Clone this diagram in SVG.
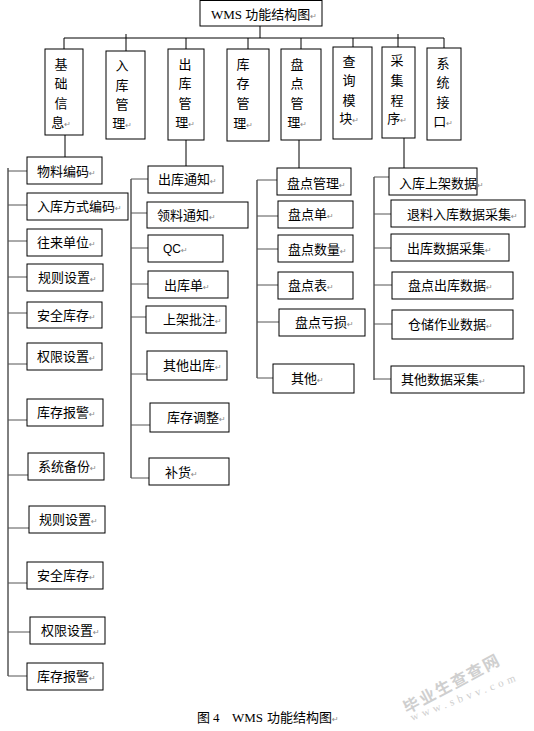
<svg xmlns="http://www.w3.org/2000/svg" width="534" height="731" viewBox="0 0 534 731">
<style>
.b{fill:#fff;stroke:#000;stroke-width:1}
.t{font-family:"Noto Sans CJK SC","Noto Sans CJK JP",sans-serif;font-size:13px;fill:#000}
.r{font-family:"DejaVu Sans",sans-serif;font-size:8px;fill:#888}
.c line{stroke:#000;stroke-width:1}
.g line{stroke:#555;stroke-width:1}
.s{font-family:"Liberation Serif","Noto Sans CJK SC",serif;font-size:13px;fill:#000}
</style>
<rect width="534" height="731" fill="#fff"/>
<g id="connectors">
<g class="c">
<line x1="260" y1="26" x2="260" y2="38"/>
<line x1="64" y1="38" x2="444" y2="38"/>
<line x1="64" y1="38" x2="64" y2="49"/>
<line x1="126" y1="34" x2="126" y2="51"/>
<line x1="186" y1="38" x2="186" y2="49"/>
<line x1="248" y1="38" x2="248" y2="49"/>
<line x1="301" y1="38" x2="301" y2="49"/>
<line x1="353" y1="38" x2="353" y2="47"/>
<line x1="398" y1="34" x2="398" y2="47"/>
<line x1="444" y1="38" x2="444" y2="48"/>
<line x1="65" y1="135" x2="65" y2="157"/>
<line x1="186" y1="140" x2="186" y2="166"/>
<line x1="299" y1="140" x2="299" y2="168"/>
<line x1="404" y1="138" x2="404" y2="168"/>
<line x1="8" y1="168" x2="8" y2="676"/>
<line x1="131" y1="179" x2="131" y2="478"/>
<line x1="257" y1="180" x2="257" y2="378"/>
<line x1="374" y1="177" x2="374" y2="380"/>
</g>
<g class="g">
<line x1="8" y1="171" x2="27" y2="171"/>
<line x1="8" y1="205" x2="27" y2="205"/>
<line x1="8" y1="241" x2="27" y2="241"/>
<line x1="8" y1="277" x2="27" y2="277"/>
<line x1="8" y1="313" x2="27" y2="313"/>
<line x1="8" y1="364" x2="27" y2="364"/>
<line x1="8" y1="420" x2="27" y2="420"/>
<line x1="8" y1="475" x2="28" y2="475"/>
<line x1="8" y1="528" x2="29" y2="528"/>
<line x1="8" y1="583" x2="27" y2="583"/>
<line x1="8" y1="632" x2="30" y2="632"/>
<line x1="8" y1="676" x2="27" y2="676"/>
<line x1="131" y1="179" x2="148" y2="179"/>
<line x1="131" y1="213" x2="147" y2="213"/>
<line x1="131" y1="248" x2="148" y2="248"/>
<line x1="131" y1="284" x2="148" y2="284"/>
<line x1="131" y1="317" x2="146" y2="317"/>
<line x1="131" y1="374" x2="147" y2="374"/>
<line x1="131" y1="425" x2="150" y2="425"/>
<line x1="131" y1="478" x2="149" y2="478"/>
<line x1="257" y1="180" x2="277" y2="180"/>
<line x1="257" y1="216" x2="278" y2="216"/>
<line x1="257" y1="249" x2="278" y2="249"/>
<line x1="257" y1="285" x2="278" y2="285"/>
<line x1="257" y1="322" x2="279" y2="322"/>
<line x1="257" y1="378" x2="273" y2="378"/>
<line x1="374" y1="177" x2="389" y2="177"/>
<line x1="374" y1="214" x2="391" y2="214"/>
<line x1="374" y1="248" x2="391" y2="248"/>
<line x1="374" y1="285" x2="392" y2="285"/>
<line x1="374" y1="324" x2="392" y2="324"/>
<line x1="374" y1="379" x2="391" y2="379"/>
</g>
</g>

<g id="title"><rect class="b" x="200" y="0.5" width="122" height="25.5"/>
<text x="211" y="19"><tspan class="s">WMS </tspan><tspan class="t" font-size="12">功能结构图</tspan><tspan class="r">↵</tspan></text></g>

<g id="n-jichu"><rect class="b" x="45" y="49" width="38" height="86"/>
<text class="t" text-anchor="middle"><tspan x="61" y="69">基</tspan><tspan x="61" y="88">础</tspan><tspan x="61" y="108">信</tspan><tspan x="61" y="127">息<tspan class="r">↵</tspan></tspan></text></g>
<g id="n-ruku"><rect class="b" x="106" y="51" width="39" height="88"/>
<text class="t" text-anchor="middle"><tspan x="122" y="70">入</tspan><tspan x="122" y="90">库</tspan><tspan x="122" y="109">管</tspan><tspan x="122" y="128">理<tspan class="r">↵</tspan></tspan></text></g>
<g id="n-chuku"><rect class="b" x="168" y="49" width="36" height="91"/>
<text class="t" text-anchor="middle"><tspan x="185" y="69">出</tspan><tspan x="185" y="88">库</tspan><tspan x="185" y="108">管</tspan><tspan x="185" y="127">理<tspan class="r">↵</tspan></tspan></text></g>
<g id="n-kucun"><rect class="b" x="227" y="49" width="42" height="92"/>
<text class="t" text-anchor="middle"><tspan x="243" y="69">库</tspan><tspan x="243" y="88">存</tspan><tspan x="243" y="108">管</tspan><tspan x="243" y="128">理<tspan class="r">↵</tspan></tspan></text></g>
<g id="n-pandian"><rect class="b" x="281" y="49" width="40" height="91"/>
<text class="t" text-anchor="middle"><tspan x="297" y="69">盘</tspan><tspan x="297" y="88">点</tspan><tspan x="297" y="108">管</tspan><tspan x="297" y="127">理<tspan class="r">↵</tspan></tspan></text></g>
<g id="n-chaxun"><rect class="b" x="333" y="47" width="39" height="92"/>
<text class="t" text-anchor="middle"><tspan x="349" y="66">查</tspan><tspan x="349" y="85">询</tspan><tspan x="349" y="105">模</tspan><tspan x="349" y="123">块<tspan class="r">↵</tspan></tspan></text></g>
<g id="n-caiji"><rect class="b" x="382" y="47" width="33" height="91"/>
<text class="t" text-anchor="middle"><tspan x="397" y="65">采</tspan><tspan x="397" y="85">集</tspan><tspan x="397" y="105">程</tspan><tspan x="397" y="123">序<tspan class="r">↵</tspan></tspan></text></g>
<g id="n-xitong"><rect class="b" x="427" y="48" width="34" height="92"/>
<text class="t" text-anchor="middle"><tspan x="443" y="68">系</tspan><tspan x="443" y="87">统</tspan><tspan x="443" y="107">接</tspan><tspan x="443" y="126">口<tspan class="r">↵</tspan></tspan></text></g>

<g id="a1"><rect class="b" x="27" y="157" width="75" height="27"/><text class="t" x="37" y="176">物料编码<tspan class="r">↵</tspan></text></g>
<g id="a2"><rect class="b" x="27" y="193" width="101" height="27"/><text class="t" x="37" y="211">入库方式编码<tspan class="r">↵</tspan></text></g>
<g id="a3"><rect class="b" x="27" y="229" width="75" height="27"/><text class="t" x="37" y="247">往来单位<tspan class="r">↵</tspan></text></g>
<g id="a4"><rect class="b" x="27" y="264" width="76" height="27"/><text class="t" x="38" y="282">规则设置<tspan class="r">↵</tspan></text></g>
<g id="a5"><rect class="b" x="27" y="302" width="75" height="26"/><text class="t" x="37" y="320">安全库存<tspan class="r">↵</tspan></text></g>
<g id="a6"><rect class="b" x="27" y="343" width="75" height="27"/><text class="t" x="37" y="361">权限设置<tspan class="r">↵</tspan></text></g>
<g id="a7"><rect class="b" x="27" y="399" width="76" height="27"/><text class="t" x="37" y="417">库存报警<tspan class="r">↵</tspan></text></g>
<g id="a8"><rect class="b" x="28" y="453" width="76" height="27"/><text class="t" x="38" y="471">系统备份<tspan class="r">↵</tspan></text></g>
<g id="a9"><rect class="b" x="29" y="506" width="76" height="27"/><text class="t" x="39" y="524">规则设置<tspan class="r">↵</tspan></text></g>
<g id="a10"><rect class="b" x="27" y="562" width="76" height="27"/><text class="t" x="37" y="580">安全库存<tspan class="r">↵</tspan></text></g>
<g id="a11"><rect class="b" x="30" y="617" width="75" height="27"/><text class="t" x="41" y="635">权限设置<tspan class="r">↵</tspan></text></g>
<g id="a12"><rect class="b" x="27" y="663" width="76" height="27"/><text class="t" x="37" y="681">库存报警<tspan class="r">↵</tspan></text></g>

<g id="b1"><rect class="b" x="148" y="166" width="75" height="27"/><text class="t" x="158" y="184">出库通知<tspan class="r">↵</tspan></text></g>
<g id="b2"><rect class="b" x="147" y="202" width="101" height="26"/><text class="t" x="157" y="220">领料通知<tspan class="r">↵</tspan></text></g>
<g id="b3"><rect class="b" x="148" y="235" width="75" height="27"/><text class="t" x="163" y="253"><tspan font-family="Liberation Sans,sans-serif" font-size="12">QC</tspan><tspan class="r">↵</tspan></text></g>
<g id="b4"><rect class="b" x="148" y="271" width="80" height="27"/><text class="t" x="164" y="290">出库单<tspan class="r">↵</tspan></text></g>
<g id="b5"><rect class="b" x="146" y="306" width="80" height="27"/><text class="t" x="163" y="324">上架批注<tspan class="r">↵</tspan></text></g>
<g id="b6"><rect class="b" x="147" y="351" width="80" height="29"/><text class="t" x="163" y="370">其他出库<tspan class="r">↵</tspan></text></g>
<g id="b7"><rect class="b" x="150" y="403" width="79" height="29"/><text class="t" x="167" y="422">库存调整<tspan class="r">↵</tspan></text></g>
<g id="b8"><rect class="b" x="149" y="458" width="80" height="27"/><text class="t" x="165" y="477">补货<tspan class="r">↵</tspan></text></g>

<g id="c1"><rect class="b" x="277" y="168" width="74" height="27"/><text class="t" x="287" y="188">盘点管理<tspan class="r">↵</tspan></text></g>
<g id="c2"><rect class="b" x="278" y="201" width="75" height="27"/><text class="t" x="288" y="219">盘点单<tspan class="r">↵</tspan></text></g>
<g id="c3"><rect class="b" x="278" y="235" width="75" height="27"/><text class="t" x="288" y="254">盘点数量<tspan class="r">↵</tspan></text></g>
<g id="c4"><rect class="b" x="278" y="272" width="75" height="27"/><text class="t" x="288" y="290">盘点表<tspan class="r">↵</tspan></text></g>
<g id="c5"><rect class="b" x="279" y="309" width="86" height="27"/><text class="t" x="295" y="327">盘点亏损<tspan class="r">↵</tspan></text></g>
<g id="c6"><rect class="b" x="273" y="364" width="81" height="29"/><text class="t" x="291" y="383">其他<tspan class="r">↵</tspan></text></g>

<g id="d1"><rect class="b" x="389" y="168" width="88" height="27"/><text class="t" x="399" y="188">入库上架数据<tspan class="r">↵</tspan></text></g>
<g id="d2"><rect class="b" x="391" y="200" width="134" height="27"/><text class="t" x="407" y="219">退料入库数据采集<tspan class="r">↵</tspan></text></g>
<g id="d3"><rect class="b" x="391" y="234" width="118" height="27"/><text class="t" x="407" y="253">出库数据采集<tspan class="r">↵</tspan></text></g>
<g id="d4"><rect class="b" x="392" y="272" width="121" height="27"/><text class="t" x="408" y="290">盘点出库数据<tspan class="r">↵</tspan></text></g>
<g id="d5"><rect class="b" x="392" y="310" width="121" height="29"/><text class="t" x="408" y="329">仓储作业数据<tspan class="r">↵</tspan></text></g>
<g id="d6"><rect class="b" x="391" y="366" width="133" height="27"/><text class="t" x="401" y="384">其他数据采集<tspan class="r">↵</tspan></text></g>

<g id="caption"><text y="722"><tspan class="t" font-size="12" x="197">图</tspan><tspan class="s" font-size="12" x="213">4</tspan><tspan class="s" font-size="12" x="232">WMS</tspan><tspan class="t" font-size="12" x="267">功能结构图</tspan><tspan class="r">↵</tspan></text></g>

<g id="watermark" fill="#cfcfcf">
<text x="407" y="714" transform="rotate(-28 407 714)" font-family="Noto Sans CJK SC,sans-serif" font-size="16" font-weight="bold" letter-spacing="2">毕业生查查网</text>
<text x="412" y="721" transform="rotate(-21 412 721)" font-family="Liberation Serif,serif" font-size="11" letter-spacing="4">www.sbvv.com</text>
</g>
</svg>
